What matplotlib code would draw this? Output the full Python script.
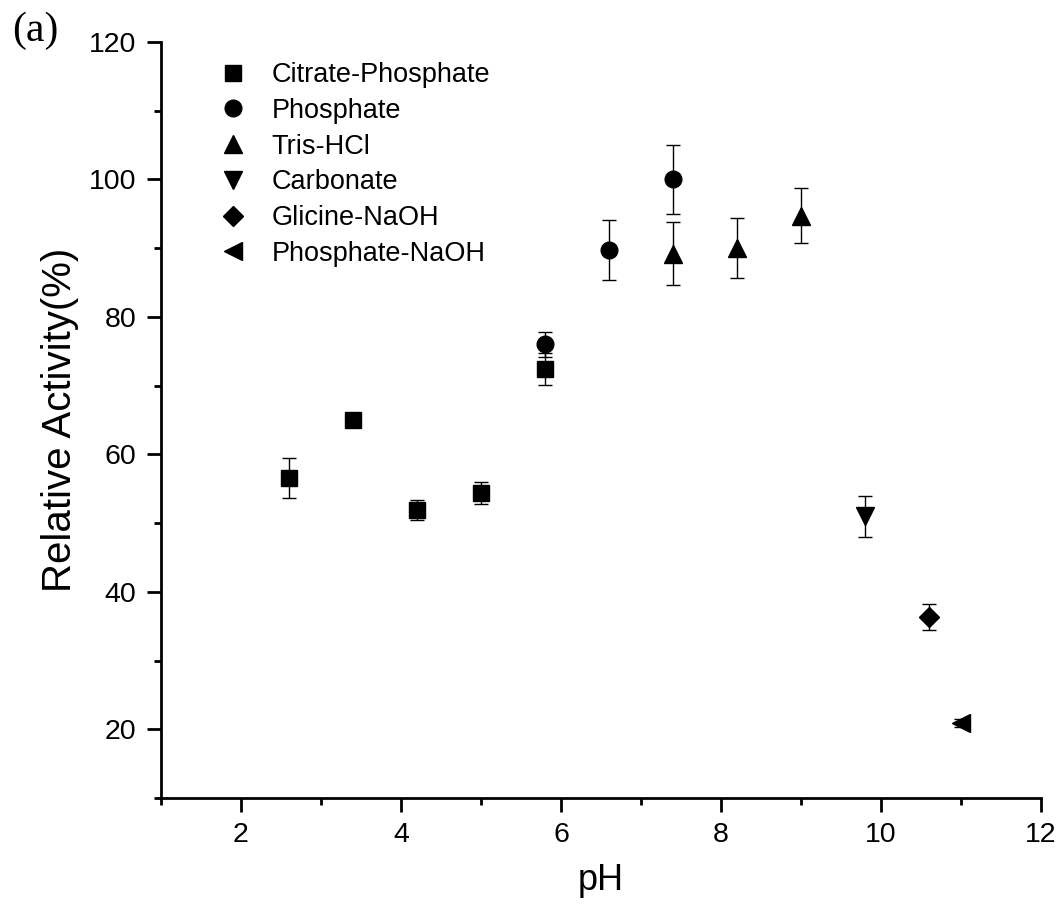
import matplotlib as mpl
mpl.use('Agg')
import matplotlib.pyplot as plt
from matplotlib.ticker import MultipleLocator

mpl.rcParams['font.family'] = ['Liberation Sans', 'DejaVu Sans']

# pH values, relative activity (%) and error per buffer
cp_ph = [2.6, 3.4, 4.2, 5.0, 5.8]
cp_act = [56.6, 65.0, 51.9, 54.4, 72.4]
cp_err = [2.9, 0.8, 1.5, 1.6, 2.3]

ph_ph = [5.8, 6.6, 7.4]
ph_act = [76.0, 89.7, 100.0]
ph_err = [1.8, 4.4, 5.0]

tris_ph = [7.4, 8.2, 9.0]
tris_act = [89.2, 90.0, 94.7]
tris_err = [4.6, 4.4, 4.0]

carb_ph = [9.8]
carb_act = [51.0]
carb_err = [3.0]

gly_ph = [10.6]
gly_act = [36.3]
gly_err = [1.9]

pna_ph = [11.0]
pna_act = [20.9]
pna_err = [0.6]

series = [
	(cp_ph, cp_act, cp_err, 's', 'Citrate-Phosphate', 11.5),
	(ph_ph, ph_act, ph_err, 'o', 'Phosphate', 12),
	(tris_ph, tris_act, tris_err, '^', 'Tris-HCl', 12.5),
	(carb_ph, carb_act, carb_err, 'v', 'Carbonate', 12.5),
	(gly_ph, gly_act, gly_err, 'D', 'Glicine-NaOH', 10),
	(pna_ph, pna_act, pna_err, '<', 'Phosphate-NaOH', 12.5),
]

fig = plt.figure(figsize=(10.64, 9.17), dpi=100)
ax = fig.add_axes([161/1064, 1 - 798/917, 880/1064, (798 - 42)/917])

for x, y, e, m, lbl, ms in series:
	ax.errorbar(x, y, yerr=e, fmt='none', ecolor='black', elinewidth=1.0,
			capsize=5, capthick=1.0, zorder=2)
	ax.plot(x, y, linestyle='none', marker=m, color='black', markersize=ms,
			label=lbl, zorder=3)

ax.set_xlim(1, 12)
ax.set_ylim(10, 120)
ax.xaxis.set_major_locator(MultipleLocator(2))
ax.xaxis.set_minor_locator(MultipleLocator(1))
ax.yaxis.set_major_locator(MultipleLocator(20))
ax.yaxis.set_minor_locator(MultipleLocator(10))
ax.set_xticks([2, 4, 6, 8, 10, 12])
ax.set_yticks([20, 40, 60, 80, 100, 120])

for s in ['top', 'right']:
	ax.spines[s].set_visible(False)
for s in ['left', 'bottom']:
	ax.spines[s].set_linewidth(2.0)

ax.tick_params(which='major', direction='out', length=10, width=2.0,
		labelsize=20.5, colors='black')
ax.tick_params(which='minor', direction='out', length=5, width=2.0)
ax.tick_params(axis='y', which='major', pad=8)
ax.tick_params(axis='x', which='major', pad=7)

ax.set_xlabel('pH', fontsize=26, labelpad=11)
ax.set_ylabel('Relative Activity(%)', fontsize=29, labelpad=7)

ax.legend(loc='upper left', bbox_to_anchor=(219/1064, 1 - 62/917),
		bbox_transform=fig.transFigure, frameon=False, fontsize=19.5,
		borderpad=0, handlelength=1.0, handletextpad=0.95,
		labelspacing=0.36, borderaxespad=0, numpoints=1)

fig.text(12/1064, 1 - 12/917, '(a)', family=['Liberation Serif', 'DejaVu Serif'],
		fontsize=30, ha='left', va='top')

fig.savefig('out.png', dpi=100)
